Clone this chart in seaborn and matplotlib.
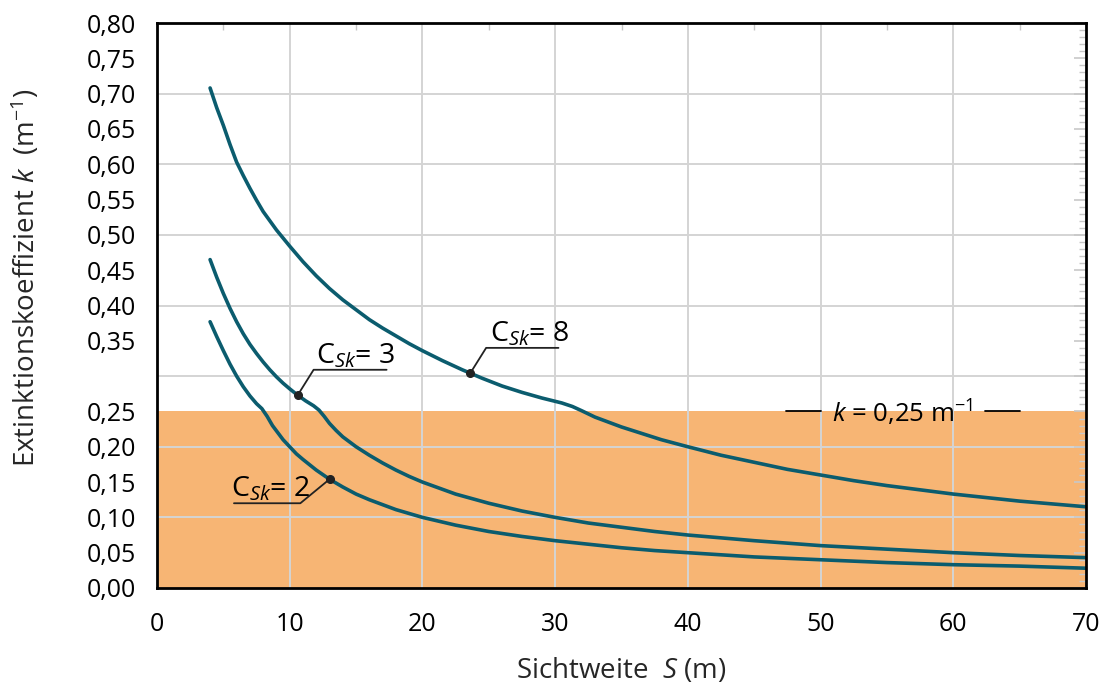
import matplotlib
matplotlib.use("Agg")
import matplotlib.pyplot as plt
import seaborn as sns
import pandas as pd
from matplotlib.ticker import MultipleLocator, FixedLocator, FuncFormatter

# ---- data ----
S_c8 = [4.0, 4.5, 5.0, 5.5, 6.0, 6.5, 7.0, 7.5, 8.0, 9.0, 10.0, 11.0, 12.0, 13.0, 14.0,
        15.0, 16.0, 17.0, 18.0, 19.0, 20.0, 21.5, 23.0, 24.5, 26.0, 27.5, 29.0, 30.5,
        31.3, 32.0, 33.0, 34.0, 35.0, 36.5, 38.0, 40.0, 42.5, 45.0, 47.5, 50.0, 52.5,
        55.0, 57.5, 60.0, 62.5, 65.0, 67.5, 70.0]
k_c8 = [0.708, 0.680, 0.655, 0.628, 0.603, 0.584, 0.566, 0.549, 0.533, 0.507, 0.484, 0.462,
        0.442, 0.424, 0.408, 0.394, 0.380, 0.368, 0.357, 0.346, 0.336, 0.322, 0.309, 0.297,
        0.286, 0.277, 0.269, 0.262, 0.257, 0.251, 0.242, 0.235, 0.228, 0.219, 0.210, 0.200,
        0.188, 0.178, 0.168, 0.160, 0.152, 0.145, 0.139, 0.133, 0.128, 0.123, 0.119, 0.115]

S_c3 = [4.0, 4.5, 5.0, 5.5, 6.0, 6.5, 7.0, 7.5, 8.0, 8.5, 9.0, 9.5, 10.0, 10.6, 11.2,
        11.8, 12.2, 12.6, 13.0, 13.5, 14.0, 15.0, 16.0, 17.0, 18.0, 19.0, 20.0, 22.5,
        25.0, 27.5, 30.0, 32.5, 35.0, 37.5, 40.0, 45.0, 50.0, 55.0, 60.0, 65.0, 70.0]
k_c3 = [0.465, 0.440, 0.417, 0.396, 0.377, 0.360, 0.345, 0.332, 0.320, 0.309, 0.299, 0.290,
        0.282, 0.273, 0.265, 0.258, 0.252, 0.243, 0.233, 0.223, 0.214, 0.200, 0.188, 0.177,
        0.167, 0.158, 0.150, 0.133, 0.120, 0.109, 0.100, 0.092, 0.086, 0.080, 0.075, 0.067,
        0.060, 0.055, 0.050, 0.046, 0.043]

S_c2 = [4.0, 4.5, 5.0, 5.5, 6.0, 6.5, 7.0, 7.5, 7.9, 8.3, 8.7, 9.1, 9.5, 10.0, 10.5,
        11.0, 12.0, 13.0, 14.0, 15.0, 16.0, 17.0, 18.0, 20.0, 22.5, 25.0, 27.5, 30.0,
        32.5, 35.0, 37.5, 40.0, 45.0, 50.0, 55.0, 60.0, 65.0, 70.0]
k_c2 = [0.377, 0.356, 0.336, 0.317, 0.300, 0.285, 0.272, 0.261, 0.254, 0.243, 0.230, 0.220,
        0.210, 0.200, 0.190, 0.182, 0.167, 0.154, 0.143, 0.133, 0.125, 0.118, 0.111, 0.100,
        0.089, 0.080, 0.073, 0.067, 0.062, 0.057, 0.053, 0.050, 0.044, 0.040, 0.036, 0.033,
        0.031, 0.028]

curve_names = ["C8", "C3", "C2"]
k_limit = 0.25
x_ticks = [0, 10, 20, 30, 40, 50, 60, 70]
y_ticks = [0.00, 0.05, 0.10, 0.15, 0.20, 0.25, 0.30, 0.35, 0.40, 0.45, 0.50,
           0.55, 0.60, 0.65, 0.70, 0.75, 0.80]
y_hidden_label = 0.30

# label anchor points (on curves)
lab_c8 = (23.6, 0.304)
lab_c3 = (10.6, 0.273)
lab_c2 = (13.0, 0.154)

# ---- style ----
sns.set_theme(style="white")
plt.rcParams["font.family"] = ["Open Sans", "DejaVu Sans"]
plt.rcParams["mathtext.fontset"] = "custom"
plt.rcParams["mathtext.rm"] = "Open Sans"
plt.rcParams["mathtext.it"] = "Open Sans:italic"
plt.rcParams["mathtext.default"] = "rm"

line_color = "#0b5c6e"
fill_color = "#f7b574"
grid_color = "#d4d4d4"

df = pd.concat([
    pd.DataFrame({"S": S_c8, "k": k_c8, "curve": curve_names[0]}),
    pd.DataFrame({"S": S_c3, "k": k_c3, "curve": curve_names[1]}),
    pd.DataFrame({"S": S_c2, "k": k_c2, "curve": curve_names[2]}),
], ignore_index=True)

fig = plt.figure(figsize=(11.08, 6.88), dpi=100)
ax = fig.add_axes([157 / 1108, 100 / 688, 929 / 1108, 565 / 688])

ax.axhspan(0, k_limit, color=fill_color, zorder=0.2, lw=0)

sns.lineplot(data=df, x="S", y="k", hue="curve", units="curve", estimator=None,
             sort=False, palette={n: line_color for n in curve_names},
             linewidth=2.6, legend=False, ax=ax, zorder=3)
for ln in ax.get_lines():
    ln.set_solid_joinstyle("round")

ax.set_xlim(0, 70)
ax.set_ylim(0, 0.80)

# grid
ax.set_axisbelow(True)
for x in [10, 20, 30, 40, 50, 60]:
    ax.axvline(x, color=grid_color, lw=1.4, zorder=0.5)
for y in [0.1, 0.2, 0.3, 0.4, 0.5, 0.6, 0.7]:
    ax.axhline(y, color=grid_color, lw=1.4, zorder=0.5)

# ticks
ax.xaxis.set_major_locator(FixedLocator(x_ticks))
ax.xaxis.set_minor_locator(MultipleLocator(5))
ax.yaxis.set_major_locator(FixedLocator(y_ticks))
ax.yaxis.set_minor_locator(MultipleLocator(0.01))

def yfmt(v, pos):
    if abs(v - y_hidden_label) < 1e-6:
        return ""
    return f"{v:.2f}".replace(".", ",")

ax.yaxis.set_major_formatter(FuncFormatter(yfmt))
ax.xaxis.set_major_formatter(FuncFormatter(lambda v, p: f"{int(v)}"))

ax.tick_params(axis="both", which="both", direction="in", top=True, right=True,
               color="#c8c8c8")
ax.tick_params(axis="y", which="major", length=9, width=1.2, labelsize=18, pad=15,
               labelcolor="black")
ax.tick_params(axis="y", which="minor", length=5, width=1.0)
ax.tick_params(axis="x", which="major", length=0, labelsize=18, pad=17,
               labelcolor="black")
ax.tick_params(axis="x", which="minor", length=5, width=1.0)

for sp in ax.spines.values():
    sp.set_color("black")
    sp.set_linewidth(2.0)
    sp.set_zorder(5)

ax.set_xlabel("Sichtweite  $\\mathit{S}$ (m)", fontsize=20, labelpad=14)
ax.set_ylabel("Extinktionskoeffizient $\\mathit{k}$  (m$^{−1}$)", fontsize=20)
ax.yaxis.set_label_coords(-0.124, 0.55)

# annotations with leader lines
def label(anchor, knee, end, text, text_xy, ha="left"):
    ax.plot([anchor[0], knee[0], end[0]], [anchor[1], knee[1], end[1]],
            color="#222222", lw=1.3, zorder=4)
    ax.plot([anchor[0]], [anchor[1]], marker="o", ms=5.5, color="#222222", zorder=6)
    ax.text(text_xy[0], text_xy[1], text, fontsize=20.5, ha=ha, va="baseline",
            color="black", zorder=6)

label(lab_c8, (24.8, 0.340), (30.25, 0.340), r"C$_{\mathit{Sk}}$= 8", (25.1, 0.349))
label(lab_c3, (11.8, 0.309), (17.3, 0.309), r"C$_{\mathit{Sk}}$= 3", (12.0, 0.318))
label(lab_c2, (10.8, 0.120), (5.8, 0.120), r"C$_{\mathit{Sk}}$= 2", (5.6, 0.129))

# "— k = 0,25 m^-1 —" marker text
ax.plot([47.4, 50.0], [0.2505, 0.2505], color="black", lw=1.3, zorder=6)
ax.plot([62.4, 65.0], [0.2505, 0.2505], color="black", lw=1.3, zorder=6)
ax.text(56.2, 0.247, "$\\mathit{k}$ = 0,25 m$^{−1}$", fontsize=18.5, ha="center",
        va="center", color="black", zorder=6)

fig.savefig("out.png", dpi=100)
